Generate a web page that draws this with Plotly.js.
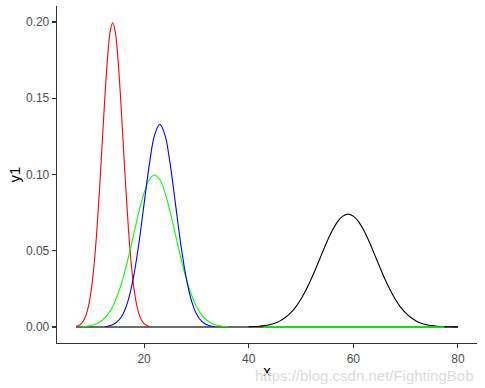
<!DOCTYPE html>
<html>
<head>
<meta charset="utf-8">
<script src="https://cdn.plot.ly/plotly-3.0.1.min.js"></script>
<style>html,body{margin:0;padding:0;background:#fff;}#chart{width:485px;height:388px;}</style>
</head>
<body>
<div id="chart"></div>
<script>
// Red curve
const redX = [7,7.5,8,8.5,9,9.5,10,10.5,11,11.5,12,12.5,13,13.5,14,14.5,15,15.5,16,16.5,17,17.5,18,18.5,19,19.5,20,20.5,21];
const redY = [0.0004,0.0010,0.0022,0.0046,0.0088,0.0159,0.0270,0.0431,0.0648,0.0913,0.1210,0.1506,0.1760,0.1933,0.1995,0.1933,0.1760,0.1506,0.1210,0.0913,0.0648,0.0431,0.0270,0.0159,0.0088,0.0046,0.0022,0.0010,0.0004];
// Blue curve
const blueX = [12.5,13,14,15,16,17,18,19,20,21,22,23,24,25,26,27,28,29,30,31,32,33,33.5];
const blueY = [0.0003,0.0005,0.0015,0.0038,0.0087,0.0180,0.0332,0.0547,0.0807,0.1065,0.1258,0.1330,0.1258,0.1065,0.0807,0.0547,0.0332,0.0180,0.0087,0.0038,0.0015,0.0005,0.0003];
// Green curve
const greenX = [8,9,10,11,12,13,14,15,16,17,18,19,20,21,22,23,24,25,26,27,28,29,30,31,32,33,34,35,36];
const greenY = [0.0002,0.0005,0.0011,0.0023,0.0044,0.0079,0.0135,0.0216,0.0324,0.0457,0.0605,0.0753,0.0880,0.0967,0.0997,0.0967,0.0880,0.0753,0.0605,0.0457,0.0324,0.0216,0.0135,0.0079,0.0044,0.0023,0.0011,0.0005,0.0002];
// Green flat segment at zero
const greenFlatX = [42.8, 77.4];
const greenFlatY = [0, 0];
// Black curve
const blackX = [40,41,42,43,44,45,46,47,48,49,50,51,52,53,54,55,56,57,58,59,60,61,62,63,64,65,66,67,68,69,70,71,72,73,74,75,76,77,78,79,80];
const blackY = [0.0002,0.0003,0.0005,0.0009,0.0015,0.0025,0.0040,0.0062,0.0092,0.0132,0.0184,0.0246,0.0318,0.0398,0.0481,0.0562,0.0634,0.0691,0.0727,0.0740,0.0727,0.0691,0.0634,0.0562,0.0481,0.0398,0.0318,0.0246,0.0184,0.0132,0.0092,0.0062,0.0040,0.0025,0.0015,0.0009,0.0005,0.0003,0.0002,0.0001,0.0001];
// Baseline at zero
const baseX = [7, 80];
const baseY = [0, 0];

const xTicks = [20, 40, 60, 80];
const yTicks = [0, 0.05, 0.10, 0.15, 0.20];
const yTickText = ["0.00", "0.05", "0.10", "0.15", "0.20"];

function tr(x, y, color, width, smooth) {
  return {x: x, y: y, type: 'scatter', mode: 'lines',
    line: {color: color, width: width, shape: smooth ? 'spline' : 'linear', smoothing: 1},
    hoverinfo: 'skip', showlegend: false};
}

const data = [
  tr(baseX, baseY, '#3a3a3a', 1.5, false),
  tr(blackX, blackY, '#000000', 1.1, true),
  tr(greenFlatX, greenFlatY, '#00FF00', 1.4, false),
  tr(redX, redY, '#FF0000', 1.1, true),
  tr(greenX, greenY, '#00FF00', 1.1, true),
  tr(blueX, blueY, '#0000FF', 1.1, true)
];

const layout = {
  width: 485, height: 388,
  margin: {l: 57, r: 8, t: 6, b: 45, pad: 0},
  paper_bgcolor: '#ffffff', plot_bgcolor: '#ffffff',
  font: {family: '"Liberation Sans", Arial, sans-serif', size: 12, color: '#4d4d4d'},
  xaxis: {
    range: [3.35, 83.65], tickvals: xTicks, ticktext: xTicks.map(String),
    showgrid: false, zeroline: false, showline: true, linecolor: '#333333', linewidth: 1.3,
    ticks: 'outside', ticklen: 4, tickwidth: 1.1, tickcolor: '#333333',
    tickfont: {size: 12, color: '#4d4d4d'},
    title: {text: 'x', font: {size: 15, color: '#000000'}, standoff: 0},
    automargin: false
  },
  yaxis: {
    range: [-0.0105, 0.2105], tickvals: yTicks, ticktext: yTickText,
    showgrid: false, zeroline: false, showline: true, linecolor: '#333333', linewidth: 1.3,
    ticks: 'outside', ticklen: 4, tickwidth: 1.1, tickcolor: '#333333',
    tickfont: {size: 12, color: '#4d4d4d'},
    title: {text: 'y1', font: {size: 15, color: '#000000'}, standoff: 1},
    automargin: false
  },
  annotations: [{
    text: 'https://blog.csdn.net/FightingBob', xref: 'paper', yref: 'paper',
    x: 0.995, y: -0.097, xanchor: 'right', yanchor: 'middle', showarrow: false,
    font: {size: 15, color: '#dcdcdc', family: '"Liberation Sans", Arial, sans-serif'}
  }]
};

Plotly.newPlot('chart', data, layout, {displayModeBar: false, staticPlot: true});
</script>
</body>
</html>
